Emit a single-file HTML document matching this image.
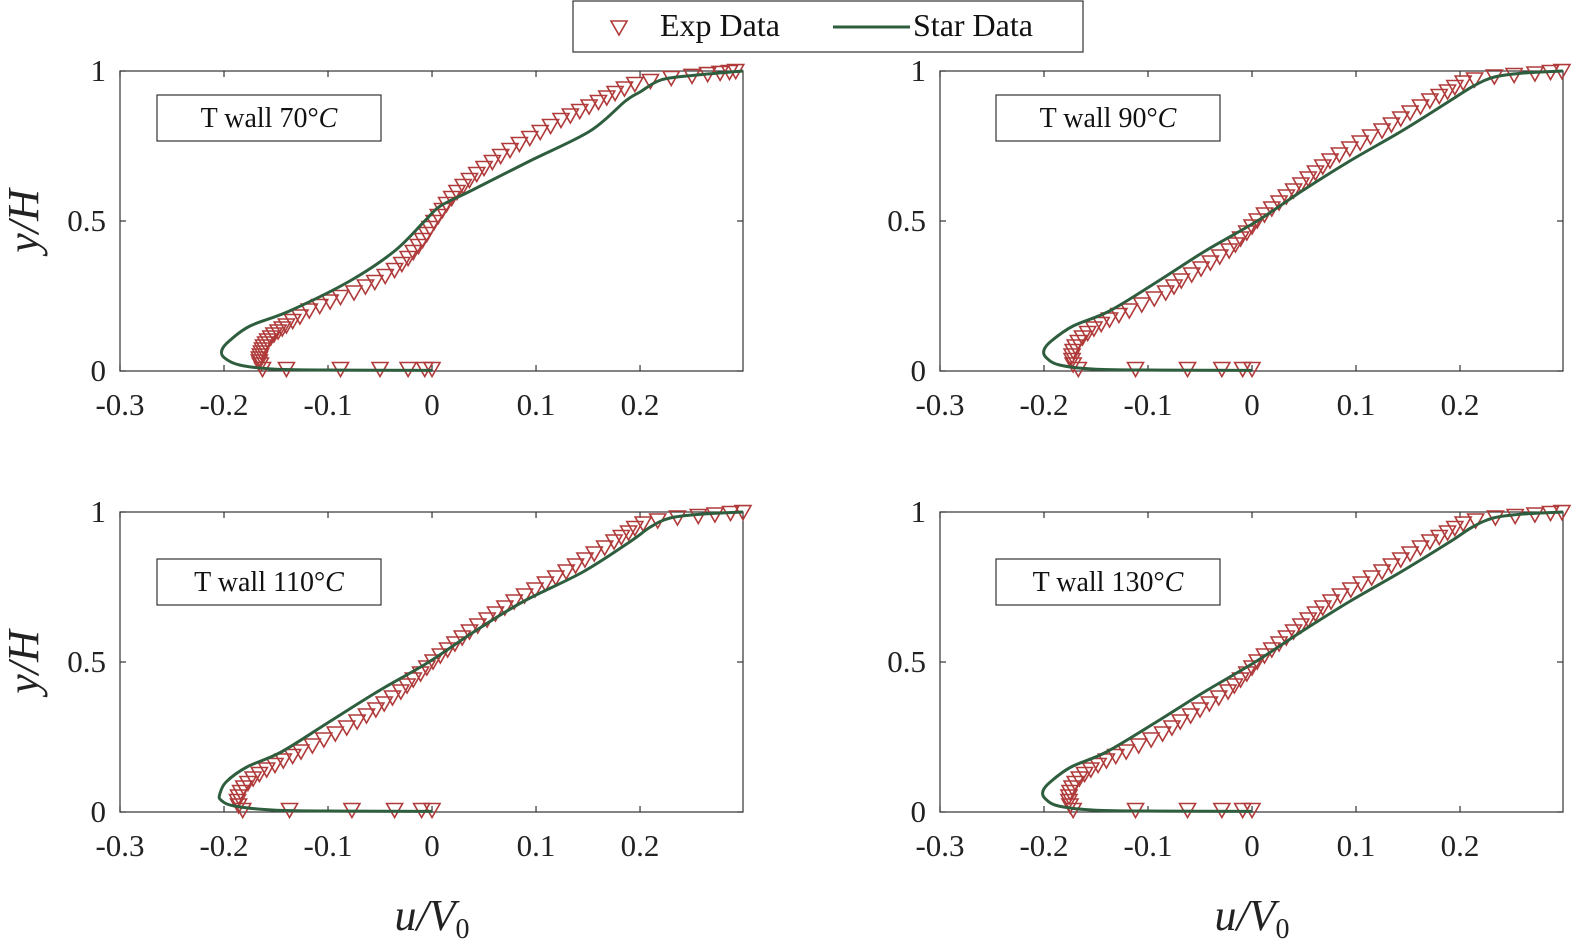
<!DOCTYPE html>
<html><head><meta charset="utf-8">
<style>
html,body{margin:0;padding:0;background:#fff;}
svg{display:block;font-family:"Liberation Serif",serif;}
</style></head>
<body>
<svg id="fig" width="1586" height="940" viewBox="0 0 1586 940" xmlns="http://www.w3.org/2000/svg">
  <g>
    <rect x="573" y="1" width="510" height="51" fill="#fff" stroke="#333" stroke-width="1.2"/>
    <path d="M611,21 L627,21 L619,35 Z" fill="none" stroke="#b03a3a" stroke-width="1.6"/>
    <text x="660" y="36" font-size="32" fill="#111">Exp Data</text>
    <line x1="833" y1="27" x2="910" y2="27" stroke="#2e5e3e" stroke-width="3"/>
    <text x="913" y="36" font-size="32" fill="#111">Star Data</text>
  </g>
</svg>
<script>
// Panel 1: T wall 70°C
const expU1=[-0.163,-0.14,-0.088,-0.05,-0.023,-0.007,0.0,-0.165,-0.166,-0.166,-0.165,-0.164,-0.163,-0.162,-0.16,-0.158,-0.155,-0.152,-0.148,-0.144,-0.14,-0.134,-0.127,-0.118,-0.108,-0.098,-0.088,-0.075,-0.064,-0.055,-0.045,-0.036,-0.029,-0.023,-0.018,-0.013,-0.009,-0.005,-0.002,0.002,0.006,0.01,0.014,0.019,0.024,0.03,0.036,0.043,0.05,0.058,0.066,0.075,0.084,0.094,0.104,0.114,0.124,0.133,0.142,0.151,0.16,0.168,0.176,0.185,0.195,0.21,0.23,0.25,0.265,0.277,0.286,0.292];
const expY1=[0.005,0.005,0.005,0.005,0.005,0.005,0.005,0.02,0.03,0.04,0.05,0.06,0.07,0.08,0.09,0.1,0.11,0.12,0.13,0.14,0.15,0.165,0.18,0.2,0.215,0.23,0.245,0.26,0.28,0.295,0.315,0.335,0.355,0.375,0.395,0.415,0.435,0.455,0.475,0.495,0.515,0.535,0.555,0.575,0.595,0.615,0.635,0.655,0.675,0.695,0.715,0.735,0.755,0.775,0.795,0.815,0.835,0.85,0.865,0.88,0.895,0.91,0.925,0.94,0.955,0.965,0.975,0.982,0.988,0.992,0.995,0.998];
const starU1=[0.0,-0.08,-0.15,-0.185,-0.2,-0.202,-0.195,-0.175,-0.137,-0.079,-0.036,-0.007,0.008,0.037,0.094,0.152,0.186,0.2,0.22,0.25,0.299];
const starY1=[0.002,0.003,0.006,0.02,0.045,0.07,0.1,0.15,0.2,0.3,0.4,0.5,0.55,0.6,0.7,0.8,0.9,0.93,0.97,0.985,1.0];
// Panel 2: T wall 90°C
const expU2=[-0.167,-0.112,-0.062,-0.029,-0.009,0.0,-0.172,-0.173,-0.173,-0.172,-0.17,-0.167,-0.163,-0.158,-0.152,-0.145,-0.137,-0.128,-0.118,-0.106,-0.094,-0.083,-0.075,-0.068,-0.058,-0.049,-0.04,-0.031,-0.022,-0.016,-0.011,-0.005,0.0,0.005,0.012,0.019,0.026,0.033,0.04,0.047,0.054,0.061,0.068,0.075,0.084,0.094,0.104,0.114,0.125,0.134,0.143,0.152,0.162,0.171,0.18,0.188,0.195,0.203,0.214,0.233,0.252,0.272,0.287,0.298];
const expY2=[0.005,0.005,0.005,0.005,0.005,0.005,0.02,0.035,0.05,0.065,0.08,0.095,0.11,0.125,0.14,0.155,0.17,0.185,0.2,0.22,0.24,0.26,0.28,0.3,0.32,0.34,0.36,0.38,0.4,0.42,0.44,0.46,0.48,0.5,0.52,0.54,0.56,0.58,0.6,0.62,0.64,0.66,0.68,0.7,0.72,0.74,0.76,0.78,0.8,0.82,0.84,0.86,0.88,0.9,0.915,0.93,0.945,0.96,0.97,0.98,0.985,0.99,0.995,0.998];
const starU2=[0.0,-0.08,-0.15,-0.185,-0.198,-0.2,-0.193,-0.172,-0.137,-0.09,-0.045,0.005,0.048,0.094,0.144,0.19,0.213,0.233,0.26,0.299];
const starY2=[0.002,0.003,0.006,0.02,0.045,0.07,0.1,0.15,0.2,0.3,0.4,0.5,0.6,0.7,0.8,0.9,0.95,0.98,0.993,1.0];
// Panel 3: T wall 110°C
const expU3=[-0.182,-0.137,-0.077,-0.036,-0.01,0.0,-0.186,-0.187,-0.186,-0.184,-0.181,-0.177,-0.172,-0.166,-0.159,-0.151,-0.143,-0.134,-0.126,-0.115,-0.104,-0.093,-0.082,-0.072,-0.063,-0.054,-0.046,-0.038,-0.03,-0.024,-0.018,-0.011,-0.005,0.001,0.008,0.015,0.022,0.029,0.036,0.044,0.053,0.061,0.07,0.079,0.089,0.099,0.109,0.119,0.129,0.138,0.147,0.156,0.166,0.175,0.182,0.189,0.195,0.203,0.217,0.236,0.256,0.272,0.287,0.299];
const expY3=[0.005,0.005,0.005,0.005,0.005,0.005,0.02,0.035,0.05,0.065,0.08,0.095,0.11,0.125,0.14,0.155,0.17,0.185,0.2,0.22,0.24,0.26,0.28,0.3,0.32,0.34,0.36,0.38,0.4,0.42,0.44,0.46,0.48,0.5,0.52,0.54,0.56,0.58,0.6,0.62,0.64,0.66,0.68,0.7,0.72,0.74,0.76,0.78,0.8,0.82,0.84,0.86,0.88,0.9,0.915,0.93,0.945,0.96,0.97,0.98,0.985,0.99,0.995,0.998];
const starU3=[0.0,-0.08,-0.15,-0.19,-0.203,-0.204,-0.198,-0.178,-0.145,-0.099,-0.053,-0.003,0.04,0.087,0.145,0.19,0.21,0.229,0.26,0.299];
const starY3=[0.002,0.003,0.006,0.02,0.04,0.06,0.1,0.15,0.2,0.3,0.4,0.5,0.6,0.7,0.8,0.9,0.95,0.98,0.993,1.0];
// Panel 4: T wall 130°C
const expU4=[-0.172,-0.112,-0.062,-0.029,-0.009,0.0,-0.175,-0.176,-0.176,-0.175,-0.173,-0.17,-0.166,-0.161,-0.155,-0.148,-0.14,-0.131,-0.121,-0.109,-0.097,-0.086,-0.077,-0.069,-0.059,-0.05,-0.041,-0.032,-0.023,-0.017,-0.011,-0.005,0.0,0.005,0.012,0.019,0.026,0.033,0.04,0.047,0.054,0.061,0.068,0.076,0.085,0.095,0.105,0.115,0.125,0.134,0.143,0.152,0.162,0.171,0.18,0.188,0.195,0.203,0.215,0.234,0.253,0.272,0.287,0.298];
const expY4=[0.005,0.005,0.005,0.005,0.005,0.005,0.02,0.035,0.05,0.065,0.08,0.095,0.11,0.125,0.14,0.155,0.17,0.185,0.2,0.22,0.24,0.26,0.28,0.3,0.32,0.34,0.36,0.38,0.4,0.42,0.44,0.46,0.48,0.5,0.52,0.54,0.56,0.58,0.6,0.62,0.64,0.66,0.68,0.7,0.72,0.74,0.76,0.78,0.8,0.82,0.84,0.86,0.88,0.9,0.915,0.93,0.945,0.96,0.97,0.98,0.985,0.99,0.995,0.998];
const starU4=[0.0,-0.08,-0.15,-0.186,-0.199,-0.201,-0.194,-0.174,-0.14,-0.092,-0.046,0.003,0.047,0.093,0.143,0.19,0.212,0.232,0.26,0.299];
const starY4=[0.002,0.003,0.006,0.02,0.045,0.07,0.1,0.15,0.2,0.3,0.4,0.5,0.6,0.7,0.8,0.9,0.95,0.98,0.993,1.0];
const xTicks=[-0.3,-0.2,-0.1,0,0.1,0.2];
const xTickLabels=["-0.3","-0.2","-0.1","0","0.1","0.2"];
const yTicks=[0,0.5,1];
const yTickLabels=["0","0.5","1"];
const panelTitles=["70","90","110","130"];

const NS="http://www.w3.org/2000/svg";
const svg=document.getElementById('fig');
function mk(tag,attrs,parent){const e=document.createElementNS(NS,tag);for(const k in attrs)e.setAttribute(k,attrs[k]);parent.appendChild(e);return e;}

const panels=[
 {x0:120,y0:71,u:expU1,y:expY1,su:starU1,sy:starY1},
 {x0:940,y0:71,u:expU2,y:expY2,su:starU2,sy:starY2},
 {x0:120,y0:512,u:expU3,y:expY3,su:starU3,sy:starY3},
 {x0:940,y0:512,u:expU4,y:expY4,su:starU4,sy:starY4}];
const W=623,H=300,XMIN=-0.3,XMAX=0.299;

panels.forEach((p,i)=>{
  const g=mk('g',{},svg);
  
  
  const sx=v=>p.x0+(v-XMIN)/(XMAX-XMIN)*W;
  const sy=v=>p.y0+H-v*H;
  const frame=mk('rect',{x:p.x0,y:p.y0,width:W,height:H,fill:'#fff',stroke:'#333','stroke-width':1.2},g);
  
  
  xTicks.forEach((t,k)=>{
    const X=sx(t);
    mk('line',{x1:X,y1:p.y0+H,x2:X,y2:p.y0+H-6,stroke:'#333','stroke-width':1.2},g);
    mk('line',{x1:X,y1:p.y0,x2:X,y2:p.y0+6,stroke:'#333','stroke-width':1.2},g);
    const tx=mk('text',{x:X,y:p.y0+H+44,'font-size':31,'text-anchor':'middle',fill:'#222'},g);
    tx.textContent=xTickLabels[k];
    
    
  });
  yTicks.forEach((t,k)=>{
    const Y=sy(t);
    mk('line',{x1:p.x0,y1:Y,x2:p.x0+6,y2:Y,stroke:'#333','stroke-width':1.2},g);
    mk('line',{x1:p.x0+W,y1:Y,x2:p.x0+W-6,y2:Y,stroke:'#333','stroke-width':1.2},g);
    const ty=mk('text',{x:p.x0-14,y:Y+10,'font-size':31,'text-anchor':'end',fill:'#222'},g);
    ty.textContent=yTickLabels[k];
    
    
  });
  if(i%2===0){
    const yt=mk('text',{x:0,y:0,'font-size':44,'font-style':'italic','text-anchor':'middle',fill:'#222',transform:`translate(${p.x0-82},${p.y0+150}) rotate(-90)`},g);
    yt.textContent='y/H';
    
    
  }
  if(i>=2){
    const xt=mk('text',{x:p.x0+312,y:p.y0+H+118,'font-size':44,'font-style':'italic','text-anchor':'middle',fill:'#222'},g);
    xt.innerHTML='u/V<tspan font-style="normal" font-size="28" dy="8">0</tspan>';
    
    
  }
  const bx=p.x0+(i%2===0?37:56), by=p.y0+(i<2?24:47);
  const tb=mk('g',{},g);
  
  
  mk('rect',{x:bx,y:by,width:224,height:46,fill:'#fff',stroke:'#333','stroke-width':1.2},tb);
  const tt=mk('text',{x:bx+112,y:by+32,'font-size':28,'text-anchor':'middle',fill:'#111'},tb);
  tt.innerHTML='T wall '+panelTitles[i]+'°<tspan font-style="italic">C</tspan>';
  const pts=p.su.map((u,k)=>[sx(u),sy(p.sy[k])]);
  let d='M'+pts[0][0]+','+pts[0][1];
  for(let k=0;k<pts.length-1;k++){
    const p0=pts[Math.max(0,k-1)],p1=pts[k],p2=pts[k+1],p3=pts[Math.min(pts.length-1,k+2)];
    const c1=[p1[0]+(p2[0]-p0[0])/6,p1[1]+(p2[1]-p0[1])/6];
    const c2=[p2[0]-(p3[0]-p1[0])/6,p2[1]-(p3[1]-p1[1])/6];
    d+=` C${c1[0]},${c1[1]} ${c2[0]},${c2[1]} ${p2[0]},${p2[1]}`;
  }
  p.u.forEach((u,k)=>{
    const X=sx(u),Y=sy(p.y[k]);
    const m=mk('path',{d:`M${X-8},${Y-7} L${X+8},${Y-7} L${X},${Y+7} Z`,fill:'none',stroke:'#b03a3a','stroke-width':1.6},g);
    
    
  });
  const line=mk('path',{d:d,fill:'none',stroke:'#2e5e3e','stroke-width':3},g);
  
  
});
</script>
</body></html>
